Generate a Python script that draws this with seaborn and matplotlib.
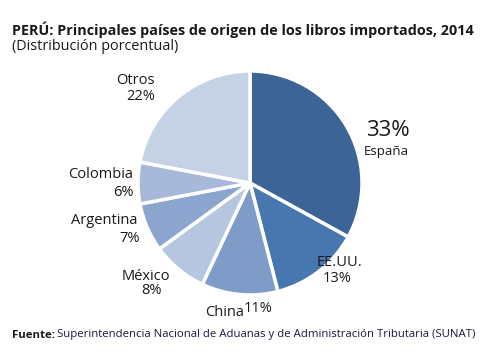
import matplotlib
matplotlib.use("Agg")
import matplotlib.pyplot as plt
import seaborn as sns

# data
paises = ["España", "EE.UU.", "China", "México", "Argentina", "Colombia", "Otros"]
valores = [33, 13, 11, 8, 7, 6, 22]
colores = ["#3c6496", "#4877b0", "#7f9cc9", "#b7c6e0", "#8ba5cf", "#a8b8d8", "#c5d1e4"]

sns.set_style("white")
plt.rcParams["font.family"] = ["Open Sans", "DejaVu Sans"]

W, H = 502, 358
fig = plt.figure(figsize=(W / 100, H / 100), dpi=100)

# pie centred at (250, 183) px, radius 112 px
cx, cy, r = 250, 183, 112
ax = fig.add_axes([(cx - r) / W, (H - cy - r) / H, 2 * r / W, 2 * r / H])
ax.pie(valores, colors=colores, startangle=90, counterclock=False, radius=1,
       wedgeprops=dict(edgecolor="white", linewidth=2.5))
ax.set_xlim(-1, 1)
ax.set_ylim(-1, 1)
ax.set_aspect("equal")
ax.axis("off")


def px(x, y):
    # pixel position -> data coords of pie axes
    return (x - cx) / r, (cy - y) / r


def label(x, y, s, size=10.5, **kw):
    xd, yd = px(x, y)
    ax.text(xd, yd, s, fontsize=size, color="#1a1a1a", ha="center", va="center",
            clip_on=False, **kw)


# labels
label(388, 130, f"{valores[0]}%", size=16)
label(386, 151, paises[0], size=9.5)
label(340, 262, paises[1])
label(337, 278, f"{valores[1]}%")
label(225, 313, paises[2])
label(258, 308, f"{valores[2]}%")
label(146, 276, paises[3])
label(152, 291, f"{valores[3]}%")
label(104, 221, paises[4])
label(130, 238, f"{valores[4]}%")
label(101, 175, paises[5])
label(123, 192, f"{valores[5]}%")
label(135, 80, paises[6])
label(141, 97, f"{valores[6]}%")

fig.text(12 / W, 1 - 30 / H, "PERÚ: Principales países de origen de los libros importados, 2014",
         fontsize=10.4, fontweight="bold", va="center", ha="left", color="#1a1a1a")
fig.text(12 / W, 1 - 47 / H, "(Distribución porcentual)",
         fontsize=10.4, va="center", ha="left", color="#1a1a1a")

fig.text(12 / W, 1 - 335 / H, "Fuente:", fontsize=8.2, fontweight="bold",
         va="center", ha="left", color="#1a1a1a")
fig.text(57 / W, 1 - 335 / H,
         "Superintendencia Nacional de Aduanas y de Administración Tributaria (SUNAT)",
         fontsize=8.2, va="center", ha="left", color="#1a1a3a")

fig.savefig("out.png", dpi=100)
